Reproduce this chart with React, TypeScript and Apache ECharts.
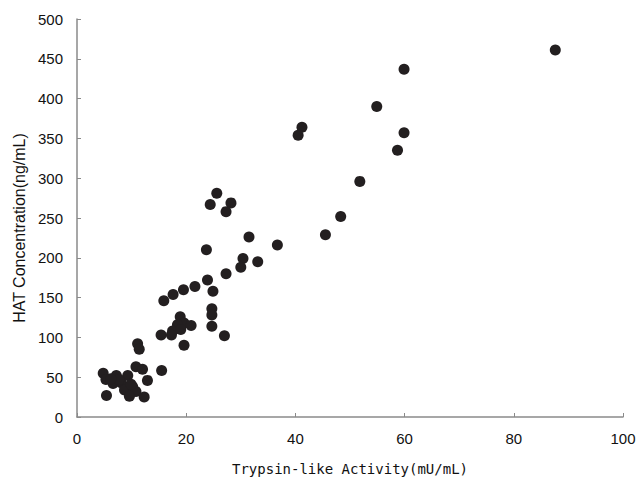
import React, { useEffect, useRef } from "react";
import * as echarts from "echarts";

const xTicks = [0, 20, 40, 60, 80, 100];
const yTicks = [0, 50, 100, 150, 200, 250, 300, 350, 400, 450, 500];

const activity = [
  87.6, 59.9, 54.9, 41.2, 40.5, 59.9, 58.7, 51.8, 48.3, 45.5,
  36.7, 25.6, 24.4, 28.2, 27.3, 31.5, 23.7, 30.4, 30.0, 33.1,
  27.3, 23.9, 21.6, 19.5, 17.6, 15.9, 24.9, 24.7, 24.7, 24.7,
  27.0, 18.9, 19.6, 20.9, 18.4, 17.5, 19.0, 15.4, 17.3, 19.6,
  11.1, 11.4, 15.5, 4.8, 10.8, 12.0, 7.2, 9.3, 12.9, 6.6,
  8.1, 8.7, 10.2, 10.8, 5.4, 9.6, 12.3, 5.3, 7.7, 9.9, 6.2,
];
const hat = [
  461, 437, 390, 364, 354, 357, 335, 296, 252, 229,
  216, 281, 267, 269, 258, 226, 210, 199, 188, 195,
  180, 172, 164, 160, 154, 146, 158, 136, 128, 114,
  102, 126, 118, 115, 116, 108, 110, 103, 103, 90,
  92, 85, 58.5, 55, 63, 60, 52, 52, 46, 42,
  43, 34, 38, 32, 27, 26, 25, 47, 47, 41, 48,
];

export default function App() {
  const ref = useRef<HTMLDivElement>(null);
  useEffect(() => {
    if (!ref.current) return;
    const chart = echarts.init(ref.current, null, { renderer: "svg" });
    const axisColor = "#8a8a8a";
    const labelFont = "'Liberation Sans', Arial, sans-serif";
    chart.setOption({
      animation: false,
      backgroundColor: "#ffffff",
      grid: { left: 77, right: 14, top: 19, bottom: 60, outerBoundsMode: "none", containLabel: false },
      xAxis: {
        type: "value",
        min: xTicks[0],
        max: xTicks[xTicks.length - 1],
        interval: xTicks[1] - xTicks[0],
        name: "Trypsin-like Activity(mU/mL)",
        nameLocation: "middle",
        nameGap: 45,
        nameTextStyle: {
          fontFamily: "'DejaVu Sans Mono', monospace",
          fontSize: 14,
          color: "#111",
        },
        axisLine: { show: true, lineStyle: { color: axisColor, width: 1.5 } },
        axisTick: { show: true, inside: true, length: 4, lineStyle: { color: axisColor } },
        axisLabel: { fontFamily: labelFont, fontSize: 15, color: "#111", margin: 14 },
        splitLine: { show: false },
      },
      yAxis: {
        type: "value",
        min: yTicks[0],
        max: yTicks[yTicks.length - 1],
        interval: yTicks[1] - yTicks[0],
        name: "HAT Concentration(ng/mL)",
        nameLocation: "middle",
        nameGap: 48,
        nameTextStyle: {
          fontFamily: labelFont,
          fontSize: 16,
          color: "#111",
          padding: [0, 20, 0, 0],
        },
        axisLine: { show: true, lineStyle: { color: axisColor, width: 1.5 } },
        axisTick: { show: true, inside: true, length: 4, lineStyle: { color: axisColor } },
        axisLabel: { fontFamily: labelFont, fontSize: 15, color: "#111", margin: 14 },
        splitLine: { show: false },
      },
      series: [
        {
          type: "scatter",
          symbol: "circle",
          symbolSize: 11,
          itemStyle: { color: "#231f20", opacity: 1 },
          data: activity.map((x, i) => [x, hat[i]]),
        },
      ],
    });
    return () => chart.dispose();
  }, []);
  return (
    <div
      ref={ref}
      style={{ position: "absolute", left: 0, top: 0, width: 637, height: 477 }}
    />
  );
}
